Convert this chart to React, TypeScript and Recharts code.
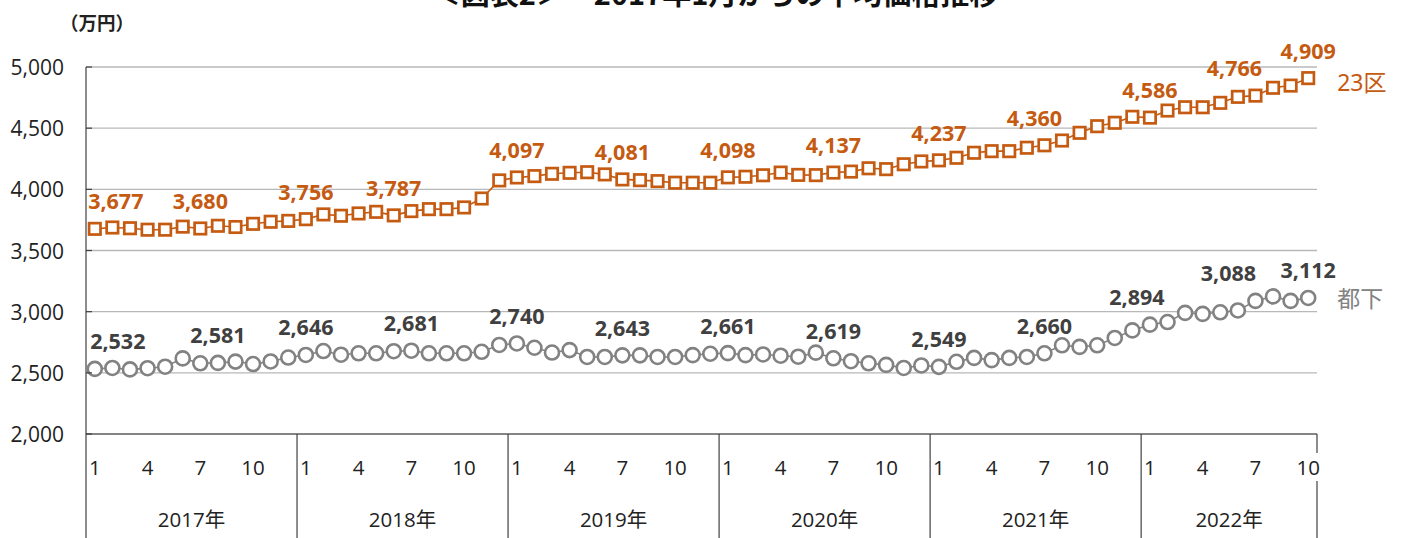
import React from 'react';
import { LineChart, Line, XAxis, YAxis, CartesianGrid, LabelList } from 'recharts';

// ---- data ----
const years = [2017, 2018, 2019, 2020, 2021, 2022];
const monthsInYear = [12, 12, 12, 12, 12, 10];
const monthTickLabels = [1, 4, 7, 10];
const yTicks = [2000, 2500, 3000, 3500, 4000, 4500, 5000];

const ward23 = [
  3677, 3688, 3682, 3670, 3670, 3695, 3680, 3702, 3692, 3718, 3735, 3742,
  3756, 3795, 3784, 3803, 3816, 3787, 3822, 3838, 3838, 3852, 3925, 4073,
  4097, 4108, 4127, 4135, 4140, 4122, 4081, 4075, 4067, 4054, 4054, 4054,
  4098, 4103, 4115, 4137, 4118, 4116, 4137, 4145, 4172, 4165, 4205, 4228,
  4237, 4258, 4299, 4312, 4312, 4340, 4360, 4399, 4462, 4516, 4544, 4593,
  4586, 4644, 4671, 4671, 4707, 4756, 4766, 4830, 4848, 4909,
];
const tokaTo = [
  2532, 2540, 2528, 2538, 2550, 2618, 2578, 2581, 2592, 2572, 2593, 2625,
  2646, 2678, 2648, 2660, 2660, 2677, 2681, 2660, 2660, 2660, 2672, 2728,
  2740, 2705, 2666, 2686, 2630, 2630, 2643, 2643, 2630, 2630, 2645, 2656,
  2661, 2645, 2650, 2640, 2632, 2665, 2619, 2595, 2578, 2565, 2540, 2560,
  2549, 2590, 2622, 2604, 2622, 2630, 2660, 2725, 2712, 2725, 2785, 2847,
  2894, 2915, 2990, 2982, 2995, 3010, 3088, 3125, 3088, 3112,
];
const ward23LabelIdx = [0, 6, 12, 17, 24, 30, 36, 42, 48, 54, 60, 66, 69];
const tokaLabelIdx = [0, 7, 12, 18, 24, 30, 36, 42, 48, 54, 60, 66, 69];
const seriesNames = ['23区', '都下'];

type Row = { i: number; year: number; month: number; nInYear: number; ward: number; toka: number };
const rows: Row[] = [];
years.forEach((yr, k) => {
  for (let m = 1; m <= monthsInYear[k]; m++) {
    const i = rows.length;
    rows.push({ i, year: yr, month: m, nInYear: monthsInYear[k], ward: ward23[i], toka: tokaTo[i] });
  }
});
const N = rows.length;

// ---- layout / style ----
const W = 1403;
const H = 538;
const LEFT = 86;
const RIGHT = 86;
const TOP = 67;
const XAXIS_H = 104;
const PLOT_W = W - LEFT - RIGHT;
const BAND = PLOT_W / N;
const AXIS_Y = H - XAXIS_H;

const ORANGE = '#C55A11';
const GRAY = '#828282';
const GRAY_LABEL = '#404040';
const AXIS = '#404040';
const TICK_FONT = "'Open Sans', 'Noto Sans CJK JP', sans-serif";
const LABEL_FONT = "'Noto Sans', 'Noto Sans CJK JP', sans-serif";

const wardNudge: Record<number, number> = { 0: 21, 54: -10, 66: -21 };
const tokaNudge: Record<number, number> = { 0: 23, 60: -13, 66: -27 };

const XTick = (props: any) => {
  const { x, payload } = props;
  const r = rows[payload.value];
  if (!r) return null;
  const els: any[] = [];
  if (monthTickLabels.includes(r.month)) {
    els.push(
      <text key="m" x={x} y={467} textAnchor="middle" dominantBaseline="central"
        fontSize={20.5} fontFamily={TICK_FONT} fill="#222">{r.month}</text>
    );
  }
  if (r.month === 1) {
    const left = x - BAND / 2;
    els.push(<line key="d" x1={left} x2={left} y1={AXIS_Y} y2={H} stroke={AXIS} strokeWidth={1.2} />);
    els.push(
      <text key="y" x={left + (r.nInYear * BAND) / 2} y={519} textAnchor="middle" dominantBaseline="central"
        fontSize={20.5} fontFamily={TICK_FONT} fill="#222">{r.year}年</text>
    );
  }
  if (r.i === N - 1) {
    const right = x + BAND / 2;
    els.push(<line key="r1" x1={right} x2={right} y1={AXIS_Y} y2={453} stroke={AXIS} strokeWidth={1.2} />);
    els.push(<line key="r2" x1={right} x2={right} y1={481} y2={H} stroke={AXIS} strokeWidth={1.2} />);
  }
  return <g>{els}</g>;
};

const YTick = (props: any) => {
  const { y, payload } = props;
  return (
    <g>
      <text x={LEFT - 22} y={y} textAnchor="end" dominantBaseline="central"
        fontSize={21} fontFamily={TICK_FONT} fill="#222">
        {payload.value.toLocaleString('en-US')}
      </text>
      <line x1={LEFT} x2={LEFT + 6} y1={y} y2={y} stroke={AXIS} strokeWidth={1.2} />
    </g>
  );
};

const SquareDot = (props: any) => {
  const { cx, cy, index } = props;
  if (cx == null || cy == null) return null;
  return <rect key={`s${index}`} x={cx - 5.7} y={cy - 5.7} width={11.4} height={11.4} fill="#fff" stroke={ORANGE} strokeWidth={2.7} />;
};
const CircleDot = (props: any) => {
  const { cx, cy, index } = props;
  if (cx == null || cy == null) return null;
  return <circle key={`c${index}`} cx={cx} cy={cy} r={7} fill="#fff" stroke={GRAY} strokeWidth={2.6} />;
};

const makeLabel = (idxs: number[], nudge: Record<number, number>, color: string, name: string, nameColor: string, nameDy: number) =>
  (p: any) => {
    const { x, y, value, index } = p;
    const els: any[] = [];
    if (idxs.includes(index)) {
      els.push(
        <text key="v" x={x + (nudge[index] || 0)} y={y - 28} textAnchor="middle" dominantBaseline="central"
          fontSize={21.5} fontWeight="bold" fontFamily={LABEL_FONT} fill={color}>
          {Number(value).toLocaleString('en-US')}
        </text>
      );
    }
    if (index === N - 1) {
      els.push(
        <text key="n" x={x + 29} y={y + nameDy} textAnchor="start" dominantBaseline="central"
          fontSize={23} fontFamily={LABEL_FONT} fill={nameColor}>{name}</text>
      );
    }
    return <g key={`l${index}`}>{els}</g>;
  };

export default function App() {
  return (
    <div style={{ position: 'absolute', left: 0, top: 0, width: W, height: H, background: '#fff', overflow: 'hidden' }}>
      <style>{'body{margin:0}'}</style>
      <LineChart width={W} height={H} data={rows} margin={{ top: TOP, right: RIGHT, left: 0, bottom: 0 }}>
        <CartesianGrid horizontal vertical={false} stroke="#B8B8B8" strokeWidth={1.3} />
        <XAxis dataKey="i" type="number" domain={[-0.5, N - 0.5]} ticks={rows.map((r) => r.i)} interval={0}
          height={XAXIS_H} tickSize={0} tickMargin={0} tickLine={false} axisLine={{ stroke: AXIS, strokeWidth: 1.2 }}
          tick={<XTick />} allowDataOverflow />
        <YAxis type="number" domain={[2000, 5000]} ticks={yTicks} interval={0} width={LEFT} tickSize={0}
          tickMargin={0} tickLine={false} axisLine={{ stroke: AXIS, strokeWidth: 1.2 }} tick={<YTick />} />
        <Line dataKey="ward" stroke={ORANGE} strokeWidth={1.6} dot={<SquareDot />} activeDot={false} isAnimationActive={false}>
          <LabelList dataKey="ward" content={makeLabel(ward23LabelIdx, wardNudge, ORANGE, seriesNames[0], ORANGE, 4)} />
        </Line>
        <Line dataKey="toka" stroke={GRAY} strokeWidth={1.6} dot={<CircleDot />} activeDot={false} isAnimationActive={false}>
          <LabelList dataKey="toka" content={makeLabel(tokaLabelIdx, tokaNudge, GRAY_LABEL, seriesNames[1], GRAY, 0)} />
        </Line>
      </LineChart>
      <svg width={W} height={H} style={{ position: 'absolute', left: 0, top: 0, pointerEvents: 'none' }}>
        <text x={715} y={5} textAnchor="middle" fontSize={29} fontWeight="bold" fontFamily="'Noto Sans CJK JP', sans-serif" fill="#111">
          ＜図表2＞　2017年1月からの平均価格推移
        </text>
        <text x={97} y={22} textAnchor="middle" dominantBaseline="central" fontSize={18.5} fontWeight="bold"
          fontFamily="'Noto Sans CJK JP', sans-serif" fill="#222">（万円）</text>
      </svg>
    </div>
  );
}
